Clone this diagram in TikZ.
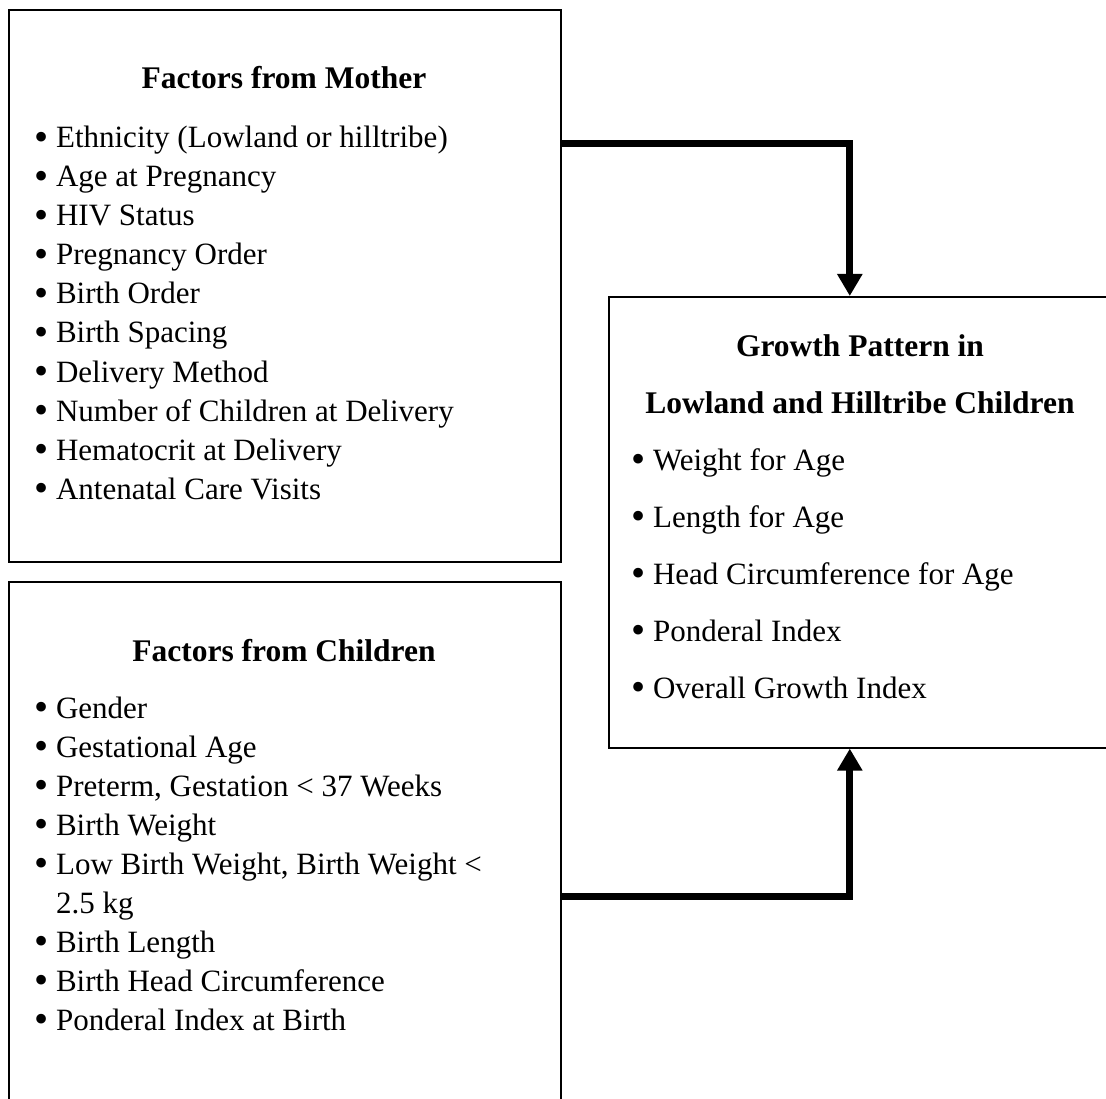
\documentclass[tikz,border=0pt]{standalone}
\usepackage{fontspec}
\usepackage{graphicx}
\setmainfont{Liberation Serif}
\usetikzlibrary{arrows.meta}
\newcommand{\blt}{\raisebox{-2.5pt}{\scalebox{1.3}{\textbullet}}\ }
\tikzset{
  box/.style={draw, line width=1.6pt, inner sep=0pt, anchor=north west},
  item/.style={anchor=base west, inner sep=0pt, font=\fontsize{31}{37}\selectfont},
  head/.style={anchor=base, inner sep=0pt, font=\fontsize{31.5}{37}\selectfont\bfseries},
  flow/.style={line width=7pt, -{Triangle[width=24pt,length=22pt]}}
}
\begin{document}
\begin{tikzpicture}[x=1pt, y=-1pt]
                \useasboundingbox (0,0) rectangle (1106,1099);
                \clip (0,0) rectangle (1106,1099);
                % boxes
                \node [box, minimum width=552pt, minimum height=552pt] (mother) at (8,9) {};
                \node [box, minimum width=552pt, minimum height=540pt] (child) at (8,581) {};
                \node [box, minimum width=504pt, minimum height=451pt] (growth) at (608,296) {};
                % mother
                \node [head] (mtitle) at (284,89) {Factors from Mother};
                \node [item] (m1) at (34,148) {\blt Ethnicity (Lowland or hilltribe)};
                \node [item] (m2) at (34,187) {\blt Age at Pregnancy};
                \node [item] (m3) at (34,226) {\blt HIV Status};
                \node [item] (m4) at (34,265) {\blt Pregnancy Order};
                \node [item] (m5) at (34,304) {\blt Birth Order};
                \node [item] (m6) at (34,343) {\blt Birth Spacing};
                \node [item] (m7) at (34,382) {\blt Delivery Method};
                \node [item] (m8) at (34,421) {\blt Number of Children at Delivery};
                \node [item] (m9) at (34,460) {\blt Hematocrit at Delivery};
                \node [item] (m10) at (34,499) {\blt Antenatal Care Visits};
                % children
                \node [head] (ctitle) at (284,661) {Factors from Children};
                \node [item] (c1) at (34,718) {\blt Gender};
                \node [item] (c2) at (34,757) {\blt Gestational Age};
                \node [item] (c3) at (34,796) {\blt Preterm, Gestation < 37 Weeks};
                \node [item] (c4) at (34,835) {\blt Birth Weight};
                \node [item] (c5) at (34,874) {\blt Low Birth Weight, Birth Weight <};
                \node [item] (c6) at (34,913) {\phantom{\blt}2.5 kg};
                \node [item] (c7) at (34,952) {\blt Birth Length};
                \node [item] (c8) at (34,991) {\blt Birth Head Circumference};
                \node [item] (c9) at (34,1030) {\blt Ponderal Index at Birth};
                % growth
                \node [head] (gtitle1) at (860,356) {Growth Pattern in};
                \node [head] (gtitle2) at (860,413) {Lowland and Hilltribe Children};
                \node [item] (g1) at (631,470) {\blt Weight for Age};
                \node [item] (g2) at (631,527) {\blt Length for Age};
                \node [item] (g3) at (631,584) {\blt Head Circumference for Age};
                \node [item] (g4) at (631,641) {\blt Ponderal Index};
                \node [item] (g5) at (631,698) {\blt Overall Growth Index};
                % arrows
                \draw [flow] ([yshift=-135pt]mother.north east) -| ([xshift=-11pt]growth.north);
                \draw [flow] ([yshift=-315pt]child.north east) -| ([xshift=-11pt]growth.south);
\end{tikzpicture}
\end{document}
